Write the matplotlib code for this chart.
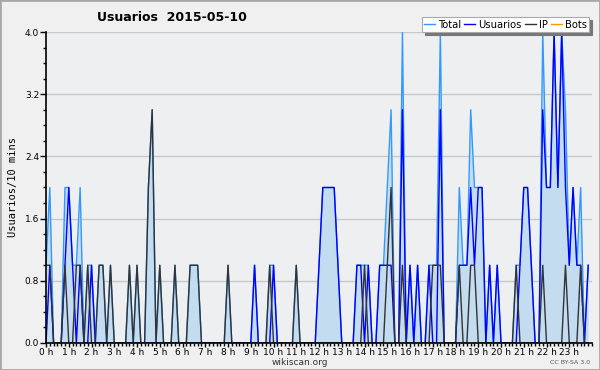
import numpy as np
import matplotlib.pyplot as plt
from matplotlib.patches import Rectangle

# valores cada 10 minutos (6 por hora), 2015-05-10
total = [1, 2, 0, 0, 0, 2,  2, 1, 1, 2, 0, 1,  1, 0, 1, 1, 0, 1,  0, 0, 0, 0, 1, 0,
         1, 0, 0, 2, 3, 0,  1, 0, 0, 0, 1, 0,  0, 0, 1, 1, 1, 0,  0, 0, 0, 0, 0, 0,
         1, 0, 0, 0, 0, 0,  0, 1, 0, 0, 0, 1,  1, 0, 0, 0, 0, 0,  1, 0, 0, 0, 0, 0,
         1, 2, 2, 2, 2, 1,  0, 0, 0, 0, 1, 1,  1, 1, 0, 0, 1, 1,  2, 3, 0, 0, 4, 0,
         1, 0, 1, 0, 0, 1,  1, 1, 4, 0, 0, 0,  0, 2, 1, 1, 3, 2,  2, 2, 0, 1, 0, 1,
         0, 0, 0, 0, 1, 1,  2, 2, 1, 0, 0, 4,  2, 2, 4, 2, 4, 3,  1, 2, 1, 2, 0, 1]
usuarios = [0, 1, 0, 0, 0, 1,  2, 1, 0, 1, 0, 0,  1, 0, 0, 0, 0, 0,  0, 0, 0, 0, 0, 0,
            0, 0, 0, 0, 0, 0,  0, 0, 0, 0, 0, 0,  0, 0, 0, 0, 0, 0,  0, 0, 0, 0, 0, 0,
            0, 0, 0, 0, 0, 0,  0, 1, 0, 0, 0, 0,  1, 0, 0, 0, 0, 0,  0, 0, 0, 0, 0, 0,
            1, 2, 2, 2, 2, 1,  0, 0, 0, 0, 1, 1,  0, 1, 0, 0, 1, 1,  1, 1, 0, 0, 3, 0,
            1, 0, 1, 0, 0, 1,  0, 0, 3, 0, 0, 0,  0, 1, 1, 1, 2, 1,  2, 2, 0, 1, 0, 1,
            0, 0, 0, 0, 0, 1,  2, 2, 1, 0, 0, 3,  2, 2, 4, 2, 4, 2,  1, 2, 1, 1, 0, 1]
ip = [1, 1, 0, 0, 0, 1,  0, 0, 1, 1, 0, 1,  0, 0, 1, 1, 0, 1,  0, 0, 0, 0, 1, 0,
      1, 0, 0, 2, 3, 0,  1, 0, 0, 0, 1, 0,  0, 0, 1, 1, 1, 0,  0, 0, 0, 0, 0, 0,
      1, 0, 0, 0, 0, 0,  0, 0, 0, 0, 0, 1,  0, 0, 0, 0, 0, 0,  1, 0, 0, 0, 0, 0,
      0, 0, 0, 0, 0, 0,  0, 0, 0, 0, 0, 0,  1, 0, 0, 0, 0, 0,  1, 2, 0, 0, 1, 0,
      0, 0, 0, 0, 0, 0,  1, 1, 1, 0, 0, 0,  0, 1, 0, 0, 1, 1,  0, 0, 0, 0, 0, 0,
      0, 0, 0, 0, 1, 0,  0, 0, 0, 0, 0, 1,  0, 0, 0, 0, 0, 1,  0, 0, 0, 1, 0, 0]
bots = [0] * 144
horas = [f"{h} h" for h in range(24)]

x = np.arange(len(total))

fig = plt.figure(figsize=(6, 3.7), dpi=100, facecolor='#f0f0f0')
fig.patches.append(Rectangle((0, 0), 1, 1, transform=fig.transFigure, fill=False,
                             edgecolor='#a8a8a8', linewidth=2))
ax = fig.add_axes([0.0767, 0.073, 0.91, 0.8405], facecolor='#eeeff1')

ax.plot(x, bots, color='#ff9900', lw=1, label='Bots', zorder=1)
ax.fill_between(x, 0, total, color='#c4dcf0', lw=0, zorder=2)
ax.plot(x, total, color='#3399ff', lw=1, label='Total', zorder=3)
ax.plot(x, usuarios, color='#0000ff', lw=1, label='Usuarios', zorder=4)
ax.plot(x, ip, color='#333333', lw=1, label='IP', zorder=5)

ax.set_xlim(0, 144)
ax.set_ylim(0, 4.0)
ax.set_xticks(np.arange(0, 144, 6))
ax.set_xticklabels(horas)
ax.set_xticks(np.arange(0, 145, 1), minor=True)
ax.set_yticks(np.arange(0, 4.01, 0.8))
ax.set_yticklabels([f"{v:.1f}" for v in np.arange(0, 4.01, 0.8)])
ax.set_yticks(np.arange(0, 4.01, 0.2), minor=True)
ax.tick_params(axis='both', which='major', labelsize=6.5, width=1, colors='black')
ax.tick_params(axis='x', which='major', length=3, pad=0.5)
ax.tick_params(axis='y', which='major', length=4, pad=1)
ax.tick_params(axis='both', which='minor', length=2.5, width=1)
ax.grid(axis='y', which='major', color='#c8c8c8', lw=1)
ax.set_axisbelow(True)
for s in ['top', 'right']:
    ax.spines[s].set_visible(False)
for s in ['left', 'bottom']:
    ax.spines[s].set_linewidth(1.2)
    ax.spines[s].set_zorder(6)

ax.set_ylabel('Usuarios/10 mins', fontsize=7.5, family='DejaVu Sans Mono', labelpad=5)

fig.text(0.287, 0.953, 'Usuarios  2015-05-10', fontsize=9, fontweight='bold',
         ha='center', va='center')
fig.text(0.5, 0.02, 'wikiscan.org', fontsize=6.5, ha='center', va='center', color='#333333')
fig.text(0.983, 0.02, 'CC BY-SA 3.0', fontsize=4.5, ha='right', va='center', color='#555555')

h, l = ax.get_legend_handles_labels()
order = [1, 2, 3, 0]
leg = fig.legend([h[k] for k in order], [l[k] for k in order], ncol=4,
                 loc='upper right', bbox_to_anchor=(0.982, 0.953), fontsize=7.2,
                 frameon=True, fancybox=False,
                 shadow={'ox': 2, 'oy': -2, 'color': '#777777', 'alpha': 1},
                 handlelength=1.1, handletextpad=0.3, columnspacing=0.3,
                 borderpad=0.25, borderaxespad=0)
leg.get_frame().set_edgecolor('#aaaaaa')
leg.get_frame().set_linewidth(0.8)
leg.get_frame().set_alpha(1)

fig.savefig('out.png', dpi=100, facecolor=fig.get_facecolor())
